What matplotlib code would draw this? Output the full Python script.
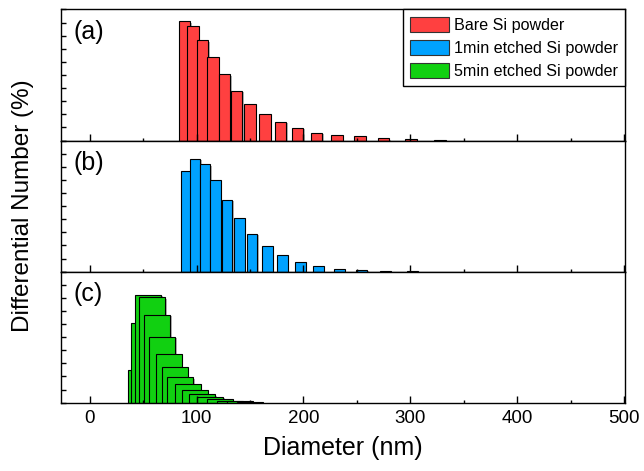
import matplotlib
matplotlib.use('Agg')
import matplotlib.pyplot as plt
import matplotlib.patheffects as pe
import numpy as np
from matplotlib.ticker import MultipleLocator
from matplotlib.patches import Patch

plt.rcParams['font.family'] = ['Liberation Sans', 'DejaVu Sans']

# panel (a) bare Si powder
d_bare = [88.6, 96.5, 105.4, 115.3, 126.0, 137.3, 150.0, 164.0, 178.5, 194.5,
          212.3, 231.5, 253.0, 275.0, 300.8, 328.0]
n_bare = [18.2, 17.4, 15.3, 12.7, 10.1, 7.6, 5.6, 4.1, 2.9, 1.9,
          1.2, 0.87, 0.62, 0.36, 0.26, 0.15]
# panel (b) 1min etched
d_1min = [90.1, 98.6, 107.7, 117.7, 128.5, 139.9, 151.9, 166.1, 180.6, 197.1,
          214.3, 233.6, 254.6, 277.0, 302.0]
n_1min = [15.4, 17.2, 16.4, 13.9, 11.0, 8.2, 5.8, 3.9, 2.5, 1.5,
          0.9, 0.42, 0.28, 0.15, 0.08]
# panel (c) 5min etched (left edges of bars)
d_5min = [35.3, 39.0, 42.4, 46.1, 50.8, 55.5, 61.5, 67.1, 72.4, 79.6,
          86.1, 93.0, 100.5, 109.3, 118.6, 128.0, 137.4]
n_5min = [4.95, 12.2, 16.5, 16.1, 13.4, 10.1, 7.4, 5.5, 3.9, 2.8,
          1.9, 1.3, 0.87, 0.5, 0.3, 0.2, 0.12]

labels = ['Bare Si powder', '1min etched Si powder', '5min etched Si powder']
colors = ['#FF4040', '#00A2FF', '#11D011']
tags = ['(a)', '(b)', '(c)']

fig = plt.figure(figsize=(6.44, 4.71), dpi=100)
gs = fig.add_gridspec(3, 1, left=0.0947, right=0.9705, bottom=0.145, top=0.980, hspace=0)
axes = [fig.add_subplot(gs[i]) for i in range(3)]

shadow = [pe.SimplePatchShadow(offset=(1.0, -1.0), shadow_rgbFace='#808080', alpha=0.6), pe.Normal()]

axes[0].bar(d_bare, n_bare, width=10.8, color=colors[0], edgecolor='black', linewidth=0.8,
            path_effects=shadow)
axes[1].bar(d_1min, n_1min, width=10.0, color=colors[1], edgecolor='black', linewidth=0.8,
            path_effects=shadow)
axes[2].bar(d_5min, n_5min, width=24.5, align='edge', color=colors[2], edgecolor='black',
            linewidth=0.8, path_effects=shadow)

for i, ax in enumerate(axes):
    ax.set_xlim(-27, 501)
    ax.set_ylim(0, 20)
    ax.xaxis.set_major_locator(MultipleLocator(100))
    ax.xaxis.set_minor_locator(MultipleLocator(50))
    ax.yaxis.set_major_locator(MultipleLocator(2))
    ax.tick_params(axis='x', which='major', direction='in', length=4.8, width=1.0,
                   top=False, labelsize=13.5, pad=5)
    ax.tick_params(axis='x', which='minor', direction='in', length=2.2, width=1.0, top=False)
    ax.tick_params(axis='y', which='major', direction='in', length=3.5, width=1.0,
                   right=False, labelleft=False)
    for s in ax.spines.values():
        s.set_linewidth(1.0)
    ax.text(0.022, 0.83, tags[i], transform=ax.transAxes, fontsize=18,
            ha='left', va='center')
    if i < 2:
        ax.tick_params(axis='x', labelbottom=False)

handles = [Patch(facecolor=c, edgecolor='#333333', linewidth=0.8) for c in colors]
leg = axes[0].legend(handles, labels, loc='upper right', fontsize=11.6, frameon=True,
                     fancybox=False, framealpha=1, edgecolor='black', borderaxespad=0,
                     handlelength=2.4, handleheight=1.05, handletextpad=0.3,
                     labelspacing=0.45, borderpad=0.45)
leg.get_frame().set_linewidth(1.0)

axes[2].set_xlabel('Diameter (nm)', fontsize=18, labelpad=7)
fig.text(0.036, 0.563, 'Differential Number (%)', rotation=90, fontsize=17.5,
         ha='center', va='center')

fig.savefig('out.png', dpi=100)
